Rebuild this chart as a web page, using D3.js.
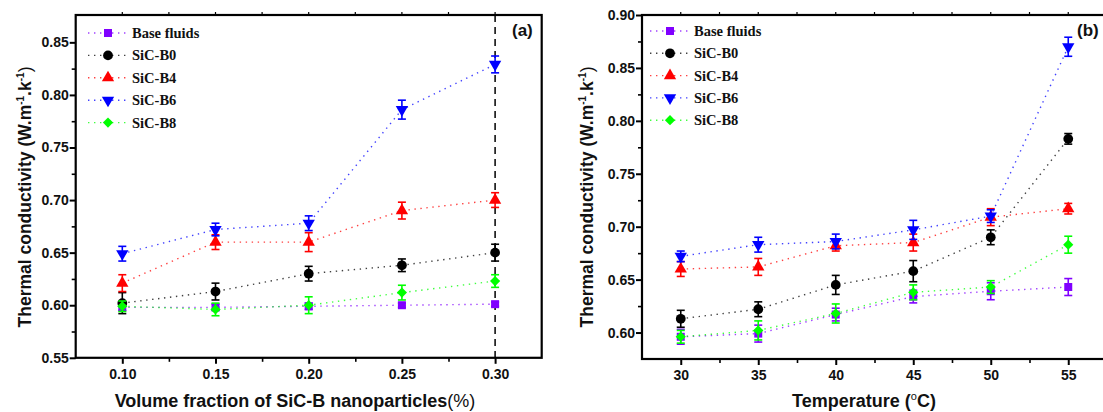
<!DOCTYPE html>
<html><head><meta charset="utf-8">
<script src="https://cdn.jsdelivr.net/npm/d3@7"></script>
<style>body{margin:0;background:#fff}svg{display:block}</style>
</head><body>
<svg id="c" width="1103" height="412"></svg>
<script>
// ---- data ----
const seriesNames = ["Base fluids", "SiC-B0", "SiC-B4", "SiC-B6", "SiC-B8"];
const seriesColors = ["#8000ff", "#000000", "#ff0000", "#0000ff", "#00ff00"];

// panel (a): volume fraction
const xFraction = [0.10, 0.15, 0.20, 0.25, 0.30];
const aBase = [0.598, 0.598, 0.599, 0.600, 0.601];
const aBaseErr = [0.003, 0.003, 0.003, 0.002, 0.002];
const aB0 = [0.602, 0.613, 0.630, 0.638, 0.650];
const aB0Err = [0.010, 0.008, 0.007, 0.006, 0.008];
const aB4 = [0.621, 0.660, 0.660, 0.690, 0.700];
const aB4Err = [0.008, 0.007, 0.009, 0.008, 0.007];
const aB6 = [0.649, 0.672, 0.678, 0.786, 0.829];
const aB6Err = [0.007, 0.006, 0.007, 0.009, 0.008];
const aB8 = [0.599, 0.596, 0.600, 0.612, 0.623];
const aB8Err = [0.005, 0.006, 0.008, 0.007, 0.006];
const aYTicks = [0.55, 0.60, 0.65, 0.70, 0.75, 0.80, 0.85];

// panel (b): temperature
const xTemp = [30, 35, 40, 45, 50, 55];
const bBase = [0.596, 0.599, 0.617, 0.634, 0.639, 0.643];
const bBaseErr = [0.007, 0.008, 0.006, 0.006, 0.008, 0.008];
const bB0 = [0.613, 0.622, 0.645, 0.658, 0.690, 0.783];
const bB0Err = [0.008, 0.007, 0.009, 0.010, 0.007, 0.005];
const bB4 = [0.660, 0.662, 0.682, 0.685, 0.709, 0.717];
const bB4Err = [0.007, 0.008, 0.005, 0.008, 0.008, 0.005];
const bB6 = [0.672, 0.683, 0.686, 0.697, 0.710, 0.870];
const bB6Err = [0.005, 0.007, 0.007, 0.009, 0.006, 0.009];
const bB8 = [0.596, 0.602, 0.618, 0.638, 0.643, 0.683];
const bB8Err = [0.006, 0.009, 0.009, 0.007, 0.006, 0.008];
const bYTicks = [0.60, 0.65, 0.70, 0.75, 0.80, 0.85, 0.90];
const bXTicks = [30, 35, 40, 45, 50, 55];

const svg = d3.select("#c");
const sans = "'Liberation Sans', Arial, sans-serif";
const serif = "'Liberation Serif', 'Times New Roman', serif";

const symbols = [
  {type: d3.symbolSquare, size: 64, rot: 0},
  {type: d3.symbolCircle, size: 75, rot: 0},
  {type: d3.symbolTriangle, size: 66, rot: 0},
  {type: d3.symbolTriangle, size: 66, rot: 180},
  {type: d3.symbolSquare, size: 52, rot: 45}
];

function drawPanel(cfg) {
  const g = svg.append("g");
  const x = d3.scaleLinear().domain(cfg.xDomain).range([cfg.left, cfg.right]);
  const y = d3.scaleLinear().domain(cfg.yDomain).range([cfg.bottom, cfg.top]);

  // frame
  g.append("rect").attr("x", cfg.left).attr("y", cfg.top)
    .attr("width", cfg.right - cfg.left).attr("height", cfg.bottom - cfg.top)
    .attr("fill", "none").attr("stroke", "#000").attr("stroke-width", 2.2);

  // bottom axis
  const xAxis = d3.axisBottom(x).tickValues(cfg.xTicks).tickFormat(cfg.xFmt).tickSize(6).tickPadding(5);
  const gx = g.append("g").attr("transform", `translate(0,${cfg.bottom})`).call(xAxis);
  gx.select(".domain").remove();
  gx.selectAll("line").attr("stroke-width", 2);
  gx.selectAll("text").attr("font-family", sans).attr("font-weight", "bold").attr("font-size", 14).attr("fill", "#111");
  const gxm = g.append("g").attr("transform", `translate(0,${cfg.bottom})`)
    .call(d3.axisBottom(x).tickValues(cfg.xMinor).tickSize(4).tickFormat(""));
  gxm.select(".domain").remove();
  gxm.selectAll("line").attr("stroke-width", 1.6);
  // top ticks
  g.selectAll(".tt").data(cfg.xTicks.concat(cfg.xMinor)).join("line")
    .attr("x1", d => x(d)).attr("x2", d => x(d)).attr("y1", cfg.top).attr("y2", cfg.top - 3)
    .attr("stroke", "#000").attr("stroke-width", 1.2);

  // left axis
  const yAxis = d3.axisLeft(y).tickValues(cfg.yTicks).tickFormat(d3.format(".2f")).tickSize(6).tickPadding(1);
  const gy = g.append("g").attr("transform", `translate(${cfg.left},0)`).call(yAxis);
  gy.select(".domain").remove();
  gy.selectAll("line").attr("stroke-width", 2);
  gy.selectAll("text").attr("font-family", sans).attr("font-weight", "bold").attr("font-size", 14).attr("fill", "#111");
  const gym = g.append("g").attr("transform", `translate(${cfg.left},0)`)
    .call(d3.axisLeft(y).tickValues(cfg.yMinor).tickSize(4).tickFormat(""));
  gym.select(".domain").remove();
  gym.selectAll("line").attr("stroke-width", 1.6);

  if (cfg.vline !== undefined) {
    g.append("line").attr("x1", x(cfg.vline)).attr("x2", x(cfg.vline))
      .attr("y1", cfg.top).attr("y2", cfg.bottom)
      .attr("stroke", "#000").attr("stroke-width", 1.5).attr("stroke-dasharray", "7,5");
  }

  const data = g.append("g");
  cfg.series.forEach((s, i) => {
    const col = seriesColors[i];
    const pts = cfg.xs.map((xv, j) => ({x: xv, y: s.vals[j], e: s.err[j]}));
    data.append("path").datum(pts)
      .attr("d", d3.line().x(d => x(d.x)).y(d => y(d.y)))
      .attr("fill", "none").attr("stroke", col).attr("stroke-opacity", 0.75)
      .attr("stroke-width", 1.4).attr("stroke-dasharray", "1.4,4.6");
  });
  cfg.series.forEach((s, i) => {
    const col = seriesColors[i];
    const pts = cfg.xs.map((xv, j) => ({x: xv, y: s.vals[j], e: s.err[j]}));
    const eg = data.append("g").attr("stroke", col).attr("stroke-width", 1.6);
    pts.forEach(d => {
      const cx = x(d.x), y1 = y(d.y + d.e), y2 = y(d.y - d.e);
      eg.append("line").attr("x1", cx).attr("x2", cx).attr("y1", y1).attr("y2", y2);
      eg.append("line").attr("x1", cx - 4).attr("x2", cx + 4).attr("y1", y1).attr("y2", y1);
      eg.append("line").attr("x1", cx - 4).attr("x2", cx + 4).attr("y1", y2).attr("y2", y2);
    });
    const sym = symbols[i];
    data.selectAll(null).data(pts).join("path")
      .attr("d", d3.symbol().type(sym.type).size(sym.size))
      .attr("transform", d => `translate(${x(d.x)},${y(d.y)}) rotate(${sym.rot})`)
      .attr("fill", col);
  });

  // legend
  const lg = g.append("g");
  seriesNames.forEach((n, i) => {
    const yy = cfg.legY + i * cfg.legDy;
    lg.append("line").attr("x1", cfg.legX).attr("x2", cfg.legX + 40).attr("y1", yy).attr("y2", yy)
      .attr("stroke", seriesColors[i]).attr("stroke-opacity", 0.75).attr("stroke-width", 1.4).attr("stroke-dasharray", "1.4,4.6");
    const sym = symbols[i];
    lg.append("path").attr("d", d3.symbol().type(sym.type).size(sym.size)())
      .attr("transform", `translate(${cfg.legX + 20},${yy}) rotate(${sym.rot})`).attr("fill", seriesColors[i]);
    lg.append("text").attr("x", cfg.legX + 44).attr("y", yy).attr("dy", "0.35em")
      .attr("font-family", serif).attr("font-weight", "bold").attr("font-size", 14.5).attr("fill", "#111").text(n);
  });

  // panel letter
  g.append("text").attr("x", cfg.letterX).attr("y", 35.5).attr("font-family", sans).attr("font-weight", "bold")
    .attr("font-size", 17).attr("fill", "#111").text(cfg.letter);

  // y title
  const yt = g.append("text").attr("transform", `translate(${cfg.yTitleX},${cfg.yTitleY}) rotate(-90)`)
    .attr("text-anchor", "middle").attr("font-family", sans).attr("font-weight", "bold")
    .attr("font-size", 17.5).attr("fill", "#111");
  yt.append("tspan").text("Thermal conductivity  (W.m");
  yt.append("tspan").attr("font-size", 10).attr("dy", -7).text("-1");
  yt.append("tspan").attr("dy", 7).text(".k");
  yt.append("tspan").attr("font-size", 10).attr("dy", -7).text("-1");
  yt.append("tspan").attr("dy", 7).attr("font-weight", "normal").text(")");

  // x title
  const xt = g.append("text").attr("x", cfg.xTitleX).attr("y", 406.5).attr("text-anchor", "middle")
    .attr("font-family", sans).attr("font-weight", "bold").attr("font-size", 18).attr("fill", "#111");
  cfg.xTitle(xt);
}

drawPanel({
  id: "a", left: 75.7, right: 541.7, top: 15, bottom: 357.8,
  xDomain: [0.075, 0.325], yDomain: [0.55, 0.876],
  xTicks: xFraction, xMinor: [0.125, 0.175, 0.225, 0.275], xFmt: d3.format(".2f"),
  yTicks: aYTicks, yMinor: [0.575, 0.625, 0.675, 0.725, 0.775, 0.825],
  xs: xFraction,
  series: [
    {vals: aBase, err: aBaseErr}, {vals: aB0, err: aB0Err}, {vals: aB4, err: aB4Err},
    {vals: aB6, err: aB6Err}, {vals: aB8, err: aB8Err}
  ],
  vline: 0.30,
  legX: 88, legY: 33, legDy: 22.4,
  letter: "(a)", letterX: 512,
  yTitleX: 31, yTitleY: 197,
  xTitleX: 295,
  xTitle: t => { t.append("tspan").text("Volume fraction of SiC-B nanoparticles"); t.append("tspan").attr("font-weight", "normal").text("(%)"); }
});

drawPanel({
  id: "b", left: 642, right: 1107, top: 15, bottom: 359,
  xDomain: [27.5, 57.5], yDomain: [0.575, 0.90],
  xTicks: bXTicks, xMinor: [32.5, 37.5, 42.5, 47.5, 52.5], xFmt: d3.format("d"),
  yTicks: bYTicks, yMinor: [0.625, 0.675, 0.725, 0.775, 0.825, 0.875],
  xs: xTemp,
  series: [
    {vals: bBase, err: bBaseErr}, {vals: bB0, err: bB0Err}, {vals: bB4, err: bB4Err},
    {vals: bB6, err: bB6Err}, {vals: bB8, err: bB8Err}
  ],
  legX: 650, legY: 31, legDy: 22.3,
  letter: "(b)", letterX: 1077,
  yTitleX: 593, yTitleY: 197,
  xTitleX: 864,
  xTitle: t => {
    t.append("tspan").text("Temperature (");
    t.append("tspan").attr("font-size", 11).attr("font-weight", "normal").attr("dy", -7).text("o");
    t.append("tspan").attr("dy", 7).text("C)");
  }
});
</script>
</body></html>
